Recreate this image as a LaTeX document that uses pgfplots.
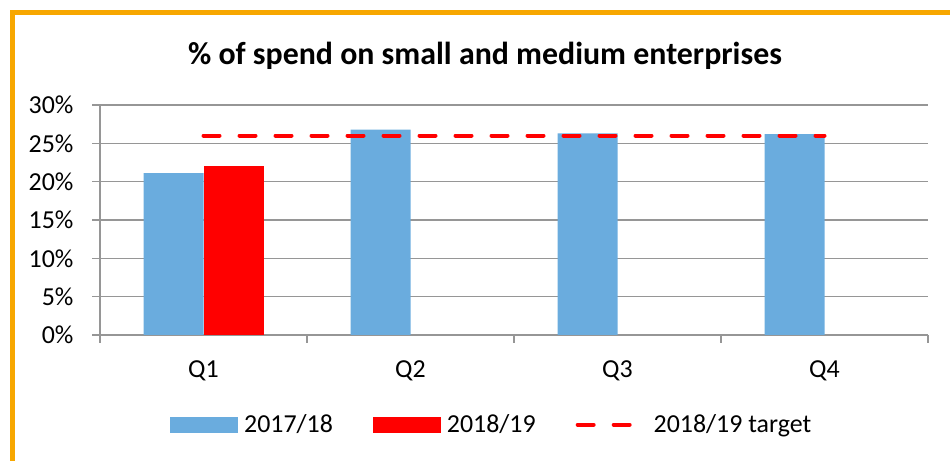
\documentclass[border=0pt]{standalone}
\usepackage{fontspec}
\setmainfont{Carlito}
\usepackage{pgfplots}
\pgfplotsset{compat=1.18}
\definecolor{barblue}{RGB}{106,172,222}
\definecolor{barred}{RGB}{255,0,0}
\definecolor{frameorange}{RGB}{247,167,0}
\definecolor{gridgray}{RGB}{150,150,150}
\begin{document}
\begin{tikzpicture}[x=1bp,y=1bp]
\path[use as bounding box] (0,0) rectangle (950,461);
\draw[frameorange, line width=5bp] (12.5,-10) -- (12.5,448.5) -- (960,448.5);
\node[font=\fontsize{32}{36}\selectfont\bfseries] at (485,405) {\% of spend on small and medium enterprises};
\begin{axis}[
  at={(100bp,126bp)}, anchor=south west,
  scale only axis, width=828bp, height=230bp,
  xmin=-0.5, xmax=3.5, ymin=0, ymax=30,
  axis lines*=left, axis line style={gridgray, line width=1.2bp, -},
  xtick={0,1,2,3}, xticklabels={Q1,Q2,Q3,Q4},
  major x tick style={draw=none},
  minor xtick={-0.5,0.5,1.5,2.5,3.5},
  minor x tick style={gridgray, line width=1.2bp},
  minor tick length=8bp,
  ytick={0,5,...,30},
  yticklabel={\pgfmathprintnumber{\tick}\%},
  /pgf/number format/assume math mode=true,
  major y tick style={gridgray, line width=1.2bp},
  major tick length=8bp,
  tick align=outside,
  ymajorgrids, grid style={gridgray, line width=1.2bp},
  ticklabel style={font=\fontsize{26}{30}\selectfont},
  xticklabel style={yshift=-14bp},
  yticklabel style={xshift=-15bp},
  legend style={at={(0.473,-0.39)}, anchor=center, draw=none, legend columns=3,
    font=\fontsize{26}{30}\selectfont,
    /tikz/every odd column/.append style={column sep=4bp},
    /tikz/every even column/.append style={column sep=38bp}},
  legend cell align=left,
]
\addplot[ybar, bar width=60bp, bar shift=-30bp, fill=barblue, draw=none,
  legend image code/.code={\fill[barblue] (0bp,-8bp) rectangle (68bp,8bp);}]
  coordinates {(0,21.1) (1,26.8) (2,26.3) (3,26.2)};
\addlegendentry{2017/18}
\addplot[ybar, bar width=60bp, bar shift=30bp, fill=barred, draw=none,
  legend image code/.code={\fill[barred] (0bp,-8bp) rectangle (68bp,8bp);}]
  coordinates {(0,22.0)};
\addlegendentry{2018/19}
\addplot[barred, line width=4bp, line cap=round, dash pattern=on 16bp off 20bp,
  legend image code/.code={\path[draw=none] (0bp,0bp) -- (72bp,0bp);\draw[barred, line width=4bp, line cap=round, dash pattern=on 16bp off 20bp] (2bp,0bp) -- (58bp,0bp);}]
  coordinates {(0,26) (3,26)};
\addlegendentry{2018/19 target}
\end{axis}
\end{tikzpicture}
\end{document}
